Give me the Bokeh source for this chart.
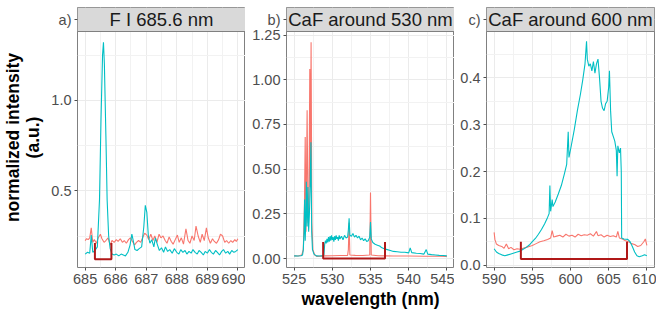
from bokeh.plotting import figure
from bokeh.layouts import row
from bokeh.models import Range1d, FixedTicker, PrintfTickFormatter, Span
from bokeh.core.properties import value
from bokeh.embed import file_html
from bokeh.resources import INLINE

FONT = "Liberation Sans"
RED = "#F8766D"
TEAL = "#00BFC4"
BRACKET = "#B01818"

# ---------------- panel a: F I 685.6 nm ----------------
a_teal_x = [685.00, 685.08, 685.15, 685.20, 685.25, 685.32, 685.40, 685.47, 685.52, 685.57,
            685.60, 685.63, 685.68, 685.72, 685.77, 685.82, 685.88, 685.95, 686.02, 686.10,
            686.18, 686.25, 686.32, 686.40, 686.47, 686.53, 686.58, 686.63, 686.70, 686.77,
            686.85, 686.92, 686.97, 687.02, 687.07, 687.12, 687.18, 687.25, 687.30, 687.37,
            687.43, 687.50, 687.57, 687.63, 687.70, 687.77, 687.85, 687.92, 688.00, 688.07,
            688.13, 688.20, 688.27, 688.33, 688.40, 688.47, 688.53, 688.60, 688.67, 688.73,
            688.80, 688.87, 688.93, 689.00, 689.07, 689.13, 689.20, 689.27, 689.33, 689.40,
            689.47, 689.53, 689.60, 689.67, 689.73, 689.80, 689.87, 689.93, 690.00]
a_teal_y = [0.150, 0.160, 0.155, 0.255, 0.160, 0.170, 0.190, 0.450, 0.900, 1.250,
            1.320, 1.200, 0.800, 0.450, 0.250, 0.180, 0.150, 0.145, 0.150, 0.140,
            0.150, 0.145, 0.140, 0.160, 0.200, 0.260, 0.220, 0.175, 0.170, 0.180,
            0.190, 0.300, 0.420, 0.380, 0.250, 0.210, 0.230, 0.190, 0.240, 0.200,
            0.170, 0.185, 0.160, 0.190, 0.165, 0.175, 0.155, 0.180, 0.160, 0.150,
            0.175, 0.160, 0.170, 0.150, 0.165, 0.155, 0.175, 0.160, 0.150, 0.170,
            0.160, 0.145, 0.165, 0.155, 0.175, 0.160, 0.150, 0.170, 0.160, 0.145,
            0.165, 0.175, 0.155, 0.165, 0.150, 0.170, 0.160, 0.165, 0.175]
a_red_x = [685.00, 685.05, 685.10, 685.15, 685.20, 685.25, 685.30, 685.37, 685.43, 685.50,
           685.55, 685.62, 685.68, 685.75, 685.82, 685.88, 685.95, 686.02, 686.08, 686.15,
           686.22, 686.28, 686.35, 686.42, 686.48, 686.55, 686.62, 686.68, 686.75, 686.82,
           686.88, 686.95, 687.02, 687.08, 687.15, 687.22, 687.28, 687.35, 687.42, 687.48,
           687.55, 687.62, 687.68, 687.75, 687.82, 687.88, 687.95, 688.02, 688.08, 688.15,
           688.22, 688.30, 688.37, 688.43, 688.50, 688.57, 688.63, 688.70, 688.77, 688.83,
           688.90, 688.97, 689.03, 689.10, 689.17, 689.23, 689.30, 689.37, 689.43, 689.50,
           689.57, 689.63, 689.70, 689.77, 689.83, 689.90, 689.95, 690.00]
a_red_y = [0.225, 0.235, 0.230, 0.240, 0.295, 0.215, 0.230, 0.210, 0.240, 0.260,
           0.235, 0.215, 0.225, 0.240, 0.200, 0.225, 0.215, 0.230, 0.220, 0.235,
           0.215, 0.225, 0.210, 0.230, 0.240, 0.220, 0.200, 0.215, 0.225, 0.215,
           0.240, 0.265, 0.255, 0.230, 0.260, 0.225, 0.250, 0.215, 0.260, 0.240,
           0.250, 0.225, 0.210, 0.245, 0.220, 0.205, 0.230, 0.255, 0.215, 0.240,
           0.205, 0.290, 0.225, 0.210, 0.250, 0.225, 0.305, 0.250, 0.215, 0.260,
           0.225, 0.295, 0.240, 0.210, 0.235, 0.220, 0.210, 0.230, 0.260, 0.250,
           0.215, 0.225, 0.210, 0.225, 0.215, 0.230, 0.220, 0.235]
a_bracket_x = [685.32, 685.32, 685.86, 685.86]
a_bracket_y = [0.212, 0.121, 0.121, 0.212]

# ---------------- panel b: CaF around 530 nm ----------------
b_teal_x = [525.0, 525.5, 525.9, 526.1, 526.2, 526.3, 526.37, 526.45, 526.52, 526.6,
            526.7, 526.8, 526.9, 527.0, 527.1, 527.2, 527.3, 527.4, 527.6, 527.9,
            528.3, 528.7, 528.9, 529.0, 529.1, 529.2, 529.3, 529.4, 529.5, 529.6,
            529.7, 529.8, 529.9, 530.0, 530.1, 530.2, 530.3, 530.4, 530.5, 530.6,
            530.7, 530.8, 530.9, 531.0, 531.2, 531.4, 531.6, 531.8, 532.0, 532.1,
            532.2, 532.3, 532.5, 532.7, 532.9, 533.1, 533.3, 533.5, 533.7, 533.9,
            534.1, 534.3, 534.5, 534.7, 534.9, 535.0, 535.1, 535.3, 535.6, 535.9,
            536.2, 536.5, 536.8, 537.2, 537.6, 538.0, 538.5, 539.0, 539.5, 540.0,
            540.2, 540.4, 541.0, 541.5, 542.0, 542.3, 542.5, 543.0, 543.5, 544.0,
            544.5, 545.0]
b_teal_y = [0.015, 0.014, 0.016, 0.020, 0.050, 0.150, 0.330, 0.100, 0.200, 0.430,
            0.180, 0.400, 0.150, 0.250, 0.400, 0.650, 0.150, 0.050, 0.025, 0.015,
            0.014, 0.015, 0.020, 0.080, 0.100, 0.085, 0.110, 0.090, 0.120, 0.095,
            0.125, 0.100, 0.130, 0.105, 0.120, 0.095, 0.125, 0.105, 0.130, 0.110,
            0.120, 0.100, 0.130, 0.110, 0.125, 0.105, 0.130, 0.115, 0.120, 0.160,
            0.225, 0.130, 0.125, 0.140, 0.120, 0.130, 0.115, 0.125, 0.105, 0.115,
            0.100, 0.110, 0.095, 0.100, 0.120, 0.205, 0.110, 0.090, 0.080, 0.075,
            0.070, 0.060, 0.055, 0.050, 0.045, 0.040, 0.038, 0.035, 0.035, 0.032,
            0.060, 0.033, 0.030, 0.028, 0.025, 0.050, 0.025, 0.022, 0.020, 0.018,
            0.017, 0.015]
b_red_x = [525.0, 525.5, 526.0, 526.2, 526.35, 526.45, 526.55, 526.7, 526.82, 526.95,
           527.05, 527.12, 527.22, 527.32, 527.45, 527.7, 528.0, 529.0, 530.0, 531.0,
           532.0, 532.1, 532.2, 532.3, 533.0, 534.0, 534.9, 535.0, 535.1, 536.0,
           537.0, 538.0, 540.0, 542.0, 544.0, 545.0]
b_red_y = [0.015, 0.014, 0.020, 0.050, 0.300, 0.680, 0.150, 0.830, 0.200, 0.350,
           1.060, 0.400, 1.210, 0.200, 0.050, 0.020, 0.012, 0.015, 0.016, 0.017,
           0.018, 0.050, 0.200, 0.020, 0.018, 0.017, 0.020, 0.370, 0.020, 0.016,
           0.015, 0.014, 0.014, 0.013, 0.013, 0.012]
b_bracket_x = [528.8, 528.8, 536.9, 536.9]
b_bracket_y = [0.093, 0.0, 0.0, 0.093]

# ---------------- panel c: CaF around 600 nm ----------------
c_teal_x = [590.0, 590.3, 590.6, 591.0, 591.4, 591.8, 592.2, 592.6, 593.0, 593.4,
            593.8, 594.2, 594.6, 595.0, 595.4, 595.8, 596.2, 596.6, 597.0, 597.2,
            597.3, 597.4, 597.6, 597.7, 598.0, 598.4, 598.8, 599.2, 599.5, 599.7,
            599.8, 600.1, 600.5, 600.9, 601.3, 601.6, 601.9, 602.1, 602.2, 602.4,
            602.6, 602.8, 603.0, 603.2, 603.4, 603.6, 603.8, 604.0, 604.2, 604.4,
            604.6, 604.8, 605.0, 605.1, 605.25, 605.4, 605.6, 605.8, 606.0, 606.1,
            606.2, 606.4, 606.55, 606.65, 606.7, 607.0, 607.5, 607.8, 608.1, 608.4,
            608.7, 609.0, 609.4, 609.7, 610.0]
c_teal_y = [0.035, 0.028, 0.025, 0.022, 0.020, 0.022, 0.024, 0.026, 0.028, 0.030,
            0.034, 0.038, 0.043, 0.050, 0.057, 0.066, 0.076, 0.088, 0.102, 0.110,
            0.170, 0.115, 0.140, 0.125, 0.135, 0.152, 0.170, 0.195, 0.215, 0.285,
            0.230, 0.255, 0.290, 0.330, 0.365, 0.395, 0.430, 0.478, 0.440, 0.425,
            0.430, 0.415, 0.435, 0.410, 0.430, 0.440, 0.400, 0.350, 0.335, 0.330,
            0.345, 0.350, 0.380, 0.415, 0.330, 0.285, 0.275, 0.265, 0.245, 0.190,
            0.255, 0.240, 0.250, 0.200, 0.058, 0.056, 0.055, 0.050, 0.040, 0.028,
            0.020, 0.018, 0.020, 0.022, 0.020]
c_red_x = [590.0, 590.1, 590.3, 590.6, 591.0, 591.3, 591.6, 591.9, 592.2, 592.6,
           593.0, 593.4, 593.8, 594.2, 594.6, 595.0, 595.5, 596.0, 596.5, 597.0,
           597.4, 597.6, 597.8, 598.2, 598.6, 599.0, 599.4, 599.8, 600.2, 600.6,
           601.0, 601.4, 601.8, 602.2, 602.6, 603.0, 603.4, 603.6, 604.0, 604.4,
           604.8, 605.2, 605.6, 606.0, 606.2, 606.4, 606.8, 607.2, 607.6, 608.0,
           608.4, 608.8, 609.2, 609.6, 609.8, 610.0]
c_red_y = [0.070, 0.055, 0.045, 0.042, 0.040, 0.036, 0.045, 0.035, 0.038, 0.033,
           0.035, 0.034, 0.036, 0.038, 0.040, 0.042, 0.046, 0.050, 0.052, 0.055,
           0.058, 0.074, 0.060, 0.062, 0.064, 0.060, 0.066, 0.062, 0.064, 0.060,
           0.066, 0.063, 0.065, 0.064, 0.067, 0.062, 0.072, 0.063, 0.065, 0.060,
           0.064, 0.061, 0.063, 0.060, 0.072, 0.058, 0.056, 0.052, 0.050, 0.046,
           0.044, 0.040, 0.042, 0.050, 0.056, 0.042]
c_bracket_x = [593.5, 593.5, 607.4, 607.4]
c_bracket_y = [0.050, 0.013, 0.013, 0.050]

panels = [
    dict(tag="a)", title="F I 685.6 nm", xr=(684.75, 690.25), yr=(0.076, 1.38),
         xt=[685, 686, 687, 688, 689, 690], xm=[685.5, 686.5, 687.5, 688.5, 689.5],
         yt=[0.5, 1.0], ym=[0.25, 0.75, 1.25], yf="%.1f",
         series=[(a_red_x, a_red_y, RED), (a_teal_x, a_teal_y, TEAL)],
         br=(a_bracket_x, a_bracket_y), left=70, right=0,
         ylabel="normalized intensity\n(a.u.)", xlabel=None),
    dict(tag="b)", title="CaF around 530 nm", xr=(524.0, 546.0), yr=(-0.05, 1.27),
         xt=[525, 530, 535, 540, 545], xm=[527.5, 532.5, 537.5, 542.5],
         yt=[0.0, 0.25, 0.5, 0.75, 1.0, 1.25], ym=[0.125, 0.375, 0.625, 0.875, 1.125], yf="%.2f",
         series=[(b_red_x, b_red_y, RED), (b_teal_x, b_teal_y, TEAL)],
         br=(b_bracket_x, b_bracket_y), left=41, right=0,
         ylabel=None, xlabel="wavelength (nm)"),
    dict(tag="c)", title="CaF around 600 nm", xr=(589.0, 611.0), yr=(-0.005, 0.499),
         xt=[590, 595, 600, 605, 610], xm=[592.5, 597.5, 602.5, 607.5],
         yt=[0.0, 0.1, 0.2, 0.3, 0.4], ym=[0.05, 0.15, 0.25, 0.35, 0.45], yf="%.1f",
         series=[(c_red_x, c_red_y, RED), (c_teal_x, c_teal_y, TEAL)],
         br=(c_bracket_x, c_bracket_y), left=32, right=2,
         ylabel=None, xlabel=None),
]

FW = 168      # panel width (px)
FH = 236      # data area height (px)
SH = 24       # strip (facet header) height (px)
figs = []
for d in panels:
    y0, y1 = d["yr"]
    ytop = y1 + (y1 - y0) * SH / FH          # strip sits on top of the data area
    ymid = (y1 + ytop) / 2
    x0, x1 = d["xr"]
    p = figure(frame_width=FW, frame_height=FH + SH, x_range=Range1d(x0, x1), y_range=Range1d(y0, ytop),
               output_backend="svg", toolbar_location=None,
               min_border_left=d["left"], min_border_right=d["right"],
               min_border_top=7, min_border_bottom=2)
    p.outline_line_color = "#808080"
    p.outline_line_width = 1
    p.background_fill_color = "white"
    p.border_fill_color = "white"
    p.xaxis.ticker = FixedTicker(ticks=d["xt"], minor_ticks=d["xm"])
    # the panel tag ("a)", "b)", "c)") is written as an extra y tick label beside the strip
    p.yaxis.ticker = FixedTicker(ticks=d["yt"] + [ymid], minor_ticks=d["ym"])
    p.xaxis.formatter = PrintfTickFormatter(format="%d")
    p.yaxis.formatter = PrintfTickFormatter(format=d["yf"])
    p.yaxis.major_label_overrides = {ymid: d["tag"]}
    for ax in (p.xaxis, p.yaxis):
        ax.axis_line_color = None
        ax.major_tick_line_color = "#4d4d4d"
        ax.major_tick_out = 3
        ax.major_tick_in = 0
        ax.minor_tick_line_color = None
        ax.major_label_text_font = FONT
        ax.major_label_text_font_size = "14.5px"
        ax.major_label_text_color = "#4d4d4d"
        ax.major_label_standoff = 2
        ax.axis_label_text_font = FONT
        ax.axis_label_text_font_style = "bold"
        ax.axis_label_text_font_size = "17.5px"
        ax.axis_label_text_color = "#000000"
        ax.axis_label_standoff = 2
    if d["xlabel"]:
        p.xaxis.axis_label = d["xlabel"]
    if d["ylabel"]:
        p.yaxis.axis_label = d["ylabel"]
        p.yaxis.axis_label_text_line_height = 1.0
        p.yaxis.axis_label_standoff = 5
    p.grid.grid_line_color = "#ebebeb"
    p.grid.grid_line_width = 1
    p.grid.minor_grid_line_color = "#f2f2f2"
    p.grid.minor_grid_line_width = 1

    for xs, ys, col in d["series"]:
        p.line(xs, ys, line_color=col, line_width=1.1)
    bx, by = d["br"]
    p.line(bx, by, line_color=BRACKET, line_width=2)

    # facet strip
    p.quad(left=[x0], right=[x1], bottom=[y1], top=[ytop], fill_color="#d9d9d9", line_color=None)
    p.add_layout(Span(location=y1, dimension="width", line_color="#808080", line_width=1))
    p.text(x=[(x0 + x1) / 2], y=[ymid], text=[d["title"]], text_align="center", text_baseline="middle",
           text_font=value(FONT), text_font_size="18.5px", text_color="#1a1a1a")
    figs.append(p)

layout = row(*figs, spacing=0)

open("out.html", "w").write(file_html(layout, INLINE))
